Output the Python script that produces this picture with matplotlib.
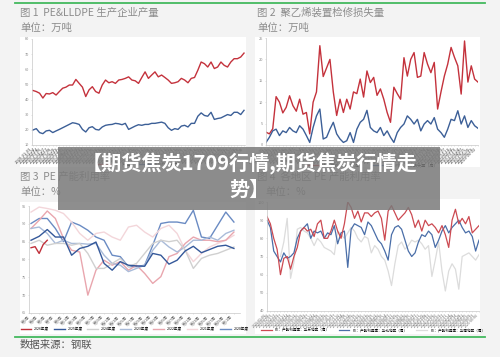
import numpy as np
import pandas as pd
import matplotlib
matplotlib.use('Agg')
import matplotlib.pyplot as plt
from matplotlib.patches import Rectangle
from matplotlib.lines import Line2D

plt.rcParams['font.family'] = ['Noto Sans CJK SC', 'DejaVu Sans']
W, H = 500, 357

# ---- 图1 PE & LLDPE 产量 (万吨)
pe_out = [46, 45.3, 44.2, 41, 44, 43.7, 44.6, 43, 45.3, 47.5,
          48.2, 49.6, 49.6, 53.3, 50.7, 48.2, 42, 46.4, 48.5, 45.3,
          44.2, 49.6, 52.9, 51.1, 51.8, 50.7, 52.9, 53.3, 54, 55,
          52.9, 52.4, 50.7, 54.6, 58.3, 54, 56.2, 58.3, 55, 56.2,
          54.6, 52.9, 50.7, 51.1, 51.8, 54, 52.9, 51.1, 54, 54.6,
          59.4, 64.8, 63.7, 61.5, 64.8, 60.5, 61.5, 64.8, 62.6, 61.5,
          64.8, 67, 67, 68.1, 70.7]
lldpe_out = [19.9, 20.8, 18.2, 17.5, 19.3, 19.7, 18.2, 19.3, 20.3, 21.4,
             22.5, 23.6, 24.7, 24.3, 23.6, 20.3, 18.6, 21.4, 22.1, 20.3,
             19.9, 21.9, 23, 23.4, 23.6, 24.3, 24, 23.4, 24.3, 20.3,
             21.4, 22.5, 23.4, 23, 23.6, 23.6, 24.3, 24.3, 24.7, 25.1,
             24.3, 21.4, 19.7, 20.8, 20.3, 22.5, 23, 21.9, 24.3, 24.3,
             29, 31.2, 29.5, 29, 31.6, 26.9, 27.5, 27.9, 29, 30.1,
             29.5, 31.6, 31.6, 30.1, 32.9]
dates1 = list(pd.date_range('2020-01-03', periods=len(pe_out), freq='3W-FRI').strftime('%Y-%m-%d'))

# ---- 图2 聚乙烯装置检修损失量 (万吨)
loss_pe = [3, 2.6, 3.8, 11.3, 10, 7.5, 8.8, 11.5, 9.2, 7.9,
           10.7, 7.2, 7.6, 2.6, 10, 12.4, 23.2, 16, 18, 20,
           12.4, 6.9, 10.7, 7.6, 10.7, 8.4, 12.4, 12, 15.4, 11.2,
           17.3, 14.6, 15.8, 11.6, 13.1, 10.7, 7.6, 5.3, 13.5, 12,
           10.7, 20.4, 16.1, 20, 21.6, 15.8, 16.1, 21.6, 18.9, 16.9,
           19.3, 8.4, 12.4, 16.1, 18.9, 22.8, 20.5, 18.5, 11.9, 24.3,
           14.7, 18.5, 15.4, 14.7]
loss_lldpe = [0.6, 1.8, 3.3, 3.7, 2.2, 3.3, 2.9, 4.1, 3.3, 2.9,
              4.5, 3.7, 2.2, 0.6, 4.1, 6.8, 8.4, 1.4, 1.8, 3.7,
              5.3, 2.6, 1.4, 0.6, 1, 2.9, 0.6, 3.7, 5.3, 6,
              8.1, 4.1, 3.3, 2.9, 4.1, 2.2, 3.3, 1.8, 0.6, 2.9,
              4.1, 4.9, 6.8, 6, 4.9, 6, 3.3, 4.9, 5.7, 4.9,
              6.4, 3.7, 2.9, 1.8, 3.7, 6, 5.7, 8, 4.9, 6.8,
              4.1, 5.7, 4.5, 3.9]
dates2 = list(pd.date_range('2021-01-01', periods=len(loss_pe), freq='2W-FRI').strftime('%Y-%m-%d'))

# ---- 图3 PE 产能利用率 (%), 按周
weeks = list(range(1, 53, 2))
week_labels = [f'第{w}周' for w in weeks]
wk26 = [1, 2, 3, 4, 5]
u2026 = [83.3, 83.6, 81.7, 84.2, 85.4]
u2025 = [85.4, 86.5, 88.4, 86.3, 86.3, 81.2, 83.1, 83.7, 84.9, 78.9,
         77, 79.4, 78.4, 78.2, 78.1, 81.7, 81.2, 78.7, 79.8, 82.4,
         83.7, 81.9, 82.8, 83.7, 84, 83.1]
u2024 = [84.5, 85.4, 84, 84.5, 84.5, 84, 84.5, 81.7, 77.5, 77.5,
         78.9, 80.3, 78, 78.9, 81.7, 84.5, 85.4, 85, 85.4, 82.6,
         77.5, 80.3, 81.2, 81.7, 82.6, 83.5]
u2023 = [88.7, 89.1, 87.3, 84.5, 85.4, 84.5, 84.5, 84.3, 84.5, 81.2,
         78.9, 78.4, 76.6, 77.5, 78.4, 82.6, 85.4, 83.5, 82.1, 83.5,
         85.4, 85.4, 86.3, 85.4, 87.3, 88.2]
u2022 = [88.7, 91, 93.6, 91.5, 85.9, 82.6, 82.1, 70, 77, 79.8,
         78.4, 79.4, 77, 78.4, 76.1, 73.3, 75.2, 80.8, 81.7, 84.5,
         86.3, 85.4, 85.4, 85, 85.4, 87.7]
u2021 = [93.3, 94.7, 94.3, 93.8, 92.9, 90.5, 87.3, 85.4, 87.3, 87.7,
         86.3, 85.4, 89.1, 89.6, 87.7, 86.3, 88.7, 89.6, 87.3, 82.6,
         79.4, 81.7, 83.5, 84.5, 85.4, 86.8]
u2020 = [90.1, 91.5, 91.5, 88.7, 85, 90.5, 89.6, 88.2, 86.3, 85.4,
         81.2, 80.8, 78, 78, 78.4, 84, 90.1, 90.5, 90.5, 90.1,
         93.8, 86.3, 85.9, 89.6, 93.3, 90.5]

# ---- 图4 各地区 PE 产能利用率 (%)
east = [92, 88, 80, 74, 60, 69, 70, 63, 70, 75,
        84, 86, 84, 85, 81, 88, 90, 80, 80, 84,
        90, 84, 80, 88, 100, 97, 91, 95, 89, 94,
        94, 92, 94, 95, 91, 79, 95, 98, 94, 90,
        92, 94, 97, 93, 86, 90, 84, 90, 87, 88,
        86, 83, 87, 82, 75, 90, 96, 88, 91, 88,
        92, 83, 85, 87]
north = [90, 86, 73, 70, 67, 72, 69, 70, 72, 80,
         84, 86, 88, 80, 84, 83, 84, 80, 83, 82,
         87, 77, 83, 84, 64, 85, 88, 87, 86, 82,
         89, 87, 83, 79, 77, 73, 68, 82, 86, 87,
         85, 79, 73, 70, 72, 78, 82, 81, 84, 82,
         75, 79, 84, 87, 83, 86, 88, 90, 86, 83,
         84, 81, 73, 79]
south = [np.nan, np.nan, np.nan, np.nan, 70, 78, 91, 58, 67, 85,
         86, 84, 83, 80, 76, 80, 78, 75, 74, 73,
         71, 84, 82, 80, 83, 86, 84, 80, 78, 81,
         80, 72, 76, 74, 70, 68, 62, 54, 66, 76,
         78, 74, 76, 79, 78, 79, 77, 74, 76, 59,
         68, 78, 62, 51, 62, 66, 63, 52, 70, 71,
         72, 70, 68, 71]
dates4 = list(pd.date_range('2023-01-06', periods=len(east), freq='2W-FRI').strftime('%Y-%m-%d'))

fig = plt.figure(figsize=(5, 3.57), dpi=100, facecolor='#f3f3f3')


def box(x0, y0, x1, y1):
    return [x0 / W, 1 - y1 / H, (x1 - x0) / W, (y1 - y0) / H]


def panel(x0, y0, x1, y1, color='white', z=-5, alpha=1.0):
    fig.patches.append(Rectangle((x0 / W, 1 - y1 / H), (x1 - x0) / W, (y1 - y0) / H,
                                 transform=fig.transFigure, facecolor=color,
                                 edgecolor='none', zorder=z, alpha=alpha))


def label(x, y, s, size=7.5, color='#8c8c8c', **kw):
    fig.text(x / W, 1 - y / H, s, fontsize=size, color=color, va='center', **kw)


def style(ax, yticks, rot_labels, xt, lsize=2.6, lcolor='#666'):
    ax.set_facecolor('white')
    for s in ['top', 'right']:
        ax.spines[s].set_visible(False)
    for s in ['left', 'bottom']:
        ax.spines[s].set_color('#c8c8c8')
        ax.spines[s].set_linewidth(0.5)
    ax.set_yticks(yticks)
    ax.set_ylim(yticks[0], yticks[-1])
    ax.set_xticks(xt)
    ax.set_xticklabels(rot_labels, rotation=45, ha='right', fontsize=lsize, color=lcolor)
    ax.tick_params(axis='y', labelsize=2.8, labelcolor='#888', length=1, width=0.4, pad=1, color='#ccc')
    ax.tick_params(axis='x', length=1, width=0.4, pad=0.5, color='#ccc')


# white panels
panel(20, 37, 246, 167)
panel(255, 37, 480, 167)
panel(20, 202, 246, 334)
panel(255, 199, 480, 334)

# green rules
for y in (3, 337):
    fig.add_artist(Line2D([15 / W, 485 / W], [1 - y / H] * 2, color='#43b95e', lw=1.3))

# titles
label(20, 13, '图 1  PE&LLDPE 生产企业产量')
label(20, 28, '单位：万吨')
label(257, 13, '图 2  聚乙烯装置检修损失量')
label(257, 28, '单位：万吨')
label(20, 177, '图 3  PE 产能利用率')
label(20, 192, '单位：%')
label(257, 177, '图 4  各地区 PE 产能利用率')
label(265, 192, '单位：%')
label(20, 345, '数据来源：钢联', color='#555555')

# chart 1
ax1 = fig.add_axes(box(32, 39, 245, 145))
x1 = np.arange(len(pe_out))
ax1.plot(x1, pe_out, color='#c4323c', lw=1.0, label='PE：产量')
ax1.plot(x1, lldpe_out, color='#3c5f97', lw=1.0, label='LLDPE：产量')
style(ax1, [10, 20, 30, 40, 50, 60, 70, 80], dates1, x1, lsize=2.9, lcolor='#444')
ax1.set_xlim(-0.3, len(pe_out) - 0.7)
ax1.legend(loc='upper center', bbox_to_anchor=(0.5, -0.13), ncol=2, fontsize=3,
           frameon=False, handlelength=3)

# chart 2
ax2 = fig.add_axes(box(266, 38, 478, 145))
x2 = np.arange(len(loss_pe))
ax2.plot(x2, loss_pe, color='#c4323c', lw=1.0, label='PE：检修损失量（周）')
ax2.plot(x2, loss_lldpe, color='#3c5f97', lw=1.0, label='LLDPE：检修损失量（周）')
style(ax2, [0, 5, 10, 15, 20, 25], dates2, x2, lsize=2.9, lcolor='#444')
ax2.set_xlim(0, len(loss_pe) - 1)
ax2.legend(loc='upper center', bbox_to_anchor=(0.5, -0.13), ncol=2, fontsize=3,
           frameon=False, handlelength=3)

# chart 3
ax3 = fig.add_axes(box(29, 206, 240, 313))
series3 = [
    (wk26, u2026, '#c0303a', '2026年度'),
    (weeks, u2025, '#34589a', '2025年度'),
    (weeks, u2024, '#d0d0d0', '2024年度'),
    (weeks, u2023, '#a9bbd9', '2023年度'),
    (weeks, u2022, '#e9a6ae', '2022年度'),
    (weeks, u2021, '#f3d6da', '2021年度'),
    (weeks, u2020, '#6a8bc3', '2020年度'),
]
for xs, ys, c, name in reversed(series3):
    ax3.plot(xs, ys, color=c, lw=1.0, label=name)
style(ax3, [65, 70, 75, 80, 85, 90, 95], week_labels, weeks, lsize=2.8)
ax3.set_xlim(0.5, 52.5)
h, l = ax3.get_legend_handles_labels()
ax3.legend(h[::-1], l[::-1], loc='upper center', bbox_to_anchor=(0.5, -0.1), ncol=7,
           fontsize=2.6, frameon=False, handlelength=3, columnspacing=1.2)

# chart 4
ax4 = fig.add_axes(box(267, 202, 479, 311))
x4 = np.arange(len(east))
ax4.plot(x4, south, color='#dcdcdc', lw=0.9, label='PE：产能利用率：华南地区（周）')
ax4.plot(x4, north, color='#4a6ea8', lw=0.9, label='PE：产能利用率：华北地区（周）')
ax4.plot(x4, east, color='#cc4a52', lw=0.9, label='PE：产能利用率：华东地区（周）')
style(ax4, [40, 50, 60, 70, 80, 90, 100], dates4, x4)
ax4.set_xlim(0, len(east) - 1)
h, l = ax4.get_legend_handles_labels()
ax4.legend(h[::-1], l[::-1], loc='upper center', bbox_to_anchor=(0.5, -0.13), ncol=3,
           fontsize=2.6, frameon=False, handlelength=3, columnspacing=2.5)

# overlay banner
panel(58, 147, 440, 210, color='#7a7a7a', z=20, alpha=0.85)
fig.text(249 / W, 1 - 164 / H, '【期货焦炭1709行情,期货焦炭行情走', fontsize=14.5,
         color='white', weight='bold', ha='center', va='center', zorder=21)
fig.text(249 / W, 1 - 189 / H, '势】', fontsize=14.5,
         color='white', weight='bold', ha='center', va='center', zorder=21)

fig.savefig('out.png', dpi=100, facecolor=fig.get_facecolor())
